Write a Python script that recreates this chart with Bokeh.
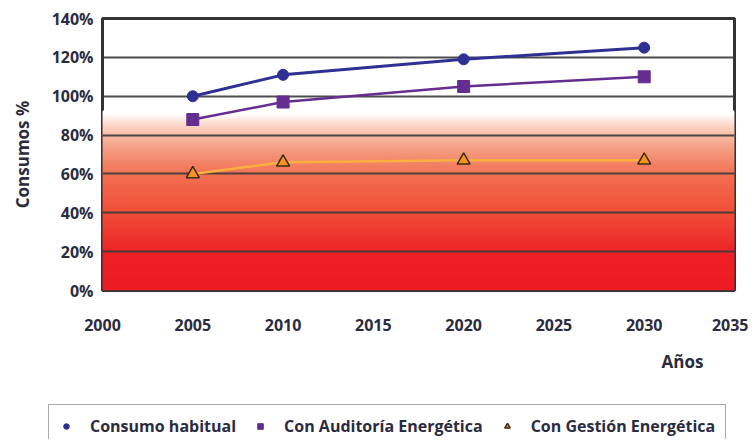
import numpy as np
from bokeh.plotting import figure
from bokeh.layouts import column
from bokeh.models import (ColumnDataSource, Legend, LegendItem, Title,
                          PrintfTickFormatter, FixedTicker, Range1d)
from bokeh.embed import file_html
from bokeh.resources import INLINE

# ---- data ----
years = [2005, 2010, 2020, 2030]
consumo_habitual = [100, 111, 119, 125]
con_auditoria = [88, 97, 105, 110]
con_gestion = [60, 66, 67, 67]

x_ticks = [2000, 2005, 2010, 2015, 2020, 2025, 2030, 2035]
y_ticks = [0, 20, 40, 60, 80, 100, 120, 140]

series_names = ["Consumo habitual", "Con Auditoría Energética", "Con Gestión Energética"]

FONT = "Open Sans"
TXT = "#2b2b40"
LEFT = 102

p = figure(width=748, height=395, output_backend="svg", toolbar_location=None,
           x_range=Range1d(2000, 2035), y_range=Range1d(0, 140),
           min_border_left=LEFT, min_border_right=14, min_border_top=18,
           min_border_bottom=105)

# background gradient (decoration): stops in % of the y axis
stops_y = [0, 18, 40, 60, 72, 80, 86, 91]
stops_c = ["#ED1C24", "#ED1F25", "#F04E37", "#F27052", "#F49A80", "#F8BBA5", "#FCDCCF", "#FFFFFF"]
rgb = np.array([[int(c[i:i + 2], 16) for i in (1, 3, 5)] for c in stops_c], dtype=float)
edges = np.linspace(0, 92, 185)
mids = (edges[:-1] + edges[1:]) / 2
cols = []
for m in mids:
    r = [np.interp(m, stops_y, rgb[:, k]) for k in range(3)]
    cols.append("#%02x%02x%02x" % tuple(int(round(v)) for v in r))
bg = p.quad(left=x_ticks[0], right=x_ticks[-1], bottom=edges[:-1], top=edges[1:] + 0.6,
            fill_color=cols, line_color=None)
bg.level = "image"

src = ColumnDataSource(dict(year=years, a=consumo_habitual, b=con_auditoria, c=con_gestion))

p.line("year", "c", source=src, line_color="#FBB040", line_width=2.5)
p.line("year", "b", source=src, line_color="#662D91", line_width=2.5)
p.line("year", "a", source=src, line_color="#2E3192", line_width=3)

tri_style = dict(marker="triangle", size=13, fill_color="#F7941D", line_color="#3a2a10", line_width=1.5)
sq_style = dict(marker="square", size=12, fill_color="#662D91", line_color="#662D91")
ci_style = dict(marker="circle", size=11, fill_color="#2E3192", line_color="#2E3192")

p.scatter("year", "c", source=src, **tri_style)
p.scatter("year", "b", source=src, **sq_style)
p.scatter("year", "a", source=src, **ci_style)

# axes
p.xaxis.ticker = FixedTicker(ticks=x_ticks)
p.yaxis.ticker = FixedTicker(ticks=y_ticks)
p.yaxis.formatter = PrintfTickFormatter(format="%d%%")
for ax in (p.xaxis, p.yaxis):
    ax.axis_line_color = None
    ax.major_tick_line_color = None
    ax.minor_tick_line_color = None
    ax.major_tick_out = 0
    ax.major_tick_in = 0
    ax.major_label_text_font = FONT
    ax.major_label_text_font_style = "bold"
    ax.major_label_text_font_size = "16px"
    ax.major_label_text_color = TXT
p.xaxis.major_label_standoff = 28
p.yaxis.major_label_standoff = 9
p.yaxis.axis_label = "Consumos %"
p.yaxis.axis_label_text_font = FONT
p.yaxis.axis_label_text_font_style = "bold"
p.yaxis.axis_label_text_font_size = "17px"
p.yaxis.axis_label_text_color = TXT
p.yaxis.axis_label_standoff = 15

p.xgrid.grid_line_color = None
p.ygrid.grid_line_color = "#3a3a3a"
p.ygrid.grid_line_width = 2
p.ygrid.grid_line_alpha = 0.9

p.outline_line_color = "#333333"
p.outline_line_width = 3
p.background_fill_color = "white"
p.border_fill_color = "white"

anos = Title(text="Años", align="right", offset=31, standoff=28, text_font=FONT,
             text_font_style="bold", text_font_size="17px", text_color=TXT)
p.add_layout(anos, "below")

# legend strip (its renderers share the data but lie outside this strip's ranges)
lg = figure(width=748, height=44, output_backend="svg", toolbar_location=None,
            x_range=Range1d(0, 1), y_range=Range1d(0, 1),
            x_axis_location=None, y_axis_location=None,
            min_border_left=0, min_border_right=0, min_border_top=0, min_border_bottom=0)
lg.outline_line_color = None
lg.xgrid.grid_line_color = None
lg.ygrid.grid_line_color = None
frame_free = "frame_align" in lg.properties()
if frame_free:
    lg.frame_align = False
l_a = lg.scatter("year", "a", source=src, **ci_style)
l_b = lg.scatter("year", "b", source=src, **sq_style)
l_c = lg.scatter("year", "c", source=src, **tri_style)

legend = Legend(items=[LegendItem(label=series_names[0], renderers=[l_a]),
                       LegendItem(label=series_names[1], renderers=[l_b]),
                       LegendItem(label=series_names[2], renderers=[l_c])],
                orientation="horizontal",
                location=(48 if frame_free else 48 - LEFT, -9))
legend.label_text_font = FONT
legend.label_text_font_style = "bold"
legend.label_text_font_size = "16px"
legend.label_text_color = TXT
legend.border_line_color = "#555555"
legend.border_line_width = 1.5
legend.background_fill_color = "white"
legend.background_fill_alpha = 1
legend.glyph_width = 14
legend.glyph_height = 14
legend.label_height = 20
legend.label_standoff = 17
legend.spacing = 17
legend.padding = 10
legend.margin = 0
lg.add_layout(legend, "center")

layout = column(p, lg, spacing=0)
open("out.html", "w").write(file_html(layout, INLINE))
